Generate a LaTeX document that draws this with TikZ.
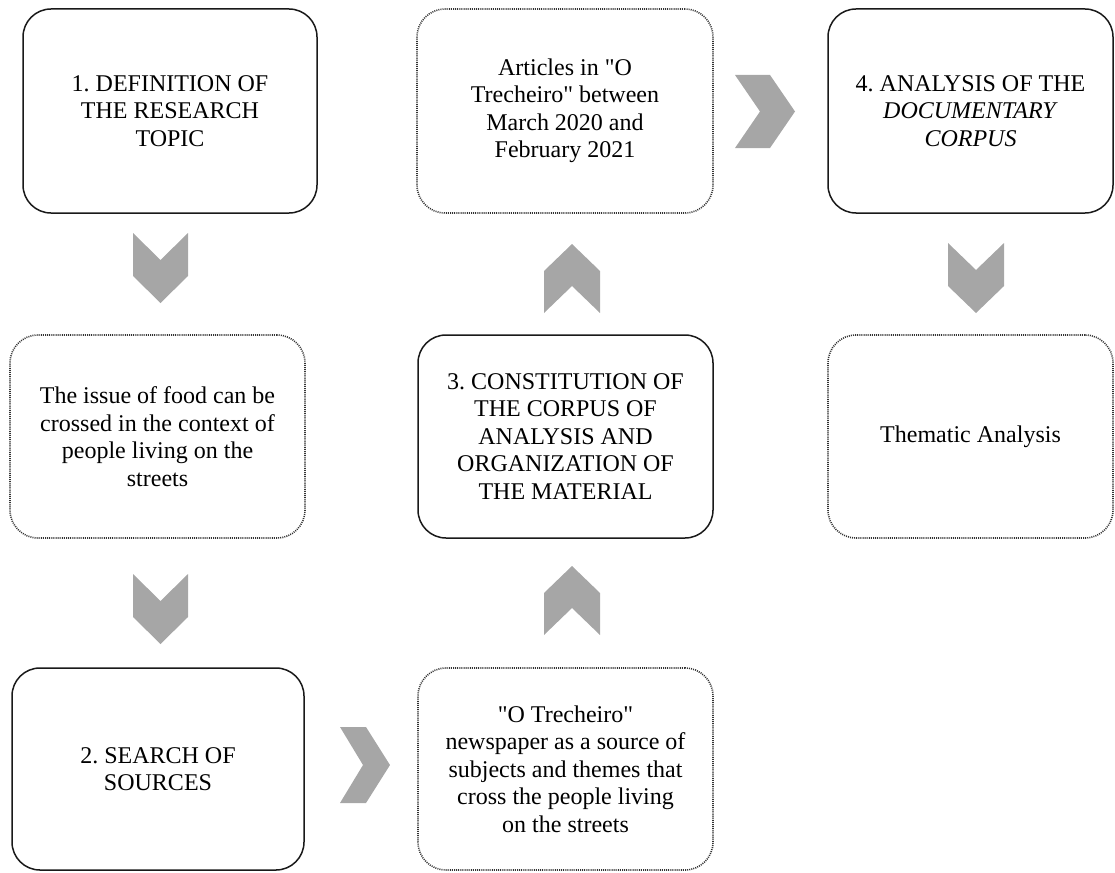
\documentclass[tikz,border=0pt]{standalone}
\usepackage{fontspec}
\setmainfont{Liberation Serif}[Ligatures=TeXOff]
\begin{document}
\frenchspacing
\begin{tikzpicture}[x=1pt,y=-1pt,
  base/.style={rounded corners=28pt, align=center, inner sep=0pt,
    font=\fontsize{24}{27.5}\selectfont\frenchspacing, text=black},
  solidbox/.style={base, draw=black!90, line width=1.5pt},
  dotbox/.style={base, draw=black!80, line width=1.6pt, dash pattern=on 1pt off 1.1pt},
  chev/.style={fill=black!35, draw=none}]
\useasboundingbox (0,0) rectangle (1115,872);

% top row
\node[solidbox, minimum width=294pt, minimum height=204pt] (b1) at (170,111)
  {1. DEFINITION OF\\THE RESEARCH\\TOPIC};
\node[dotbox, minimum width=296pt, minimum height=204pt] (art) at (565,111)
  {Articles in "O\\Trecheiro" between\\March 2020 and\\February 2021};
\node[solidbox, minimum width=285pt, minimum height=204pt] (b4) at (970.5,111)
  {4. ANALYSIS OF THE\\\textit{DOCUMENTARY}\\\textit{CORPUS}};

% middle row
\node[dotbox, minimum width=295pt, minimum height=203pt] (issue) at (157.5,436.5)
  {The issue of food can be\\crossed in the context of\\people living on the\\streets};
\node[solidbox, minimum width=295pt, minimum height=203pt] (b3) at (565.5,436.5)
  {3. CONSTITUTION OF\\THE CORPUS OF\\ANALYSIS AND\\ORGANIZATION OF\\THE MATERIAL};
\node[dotbox, minimum width=285pt, minimum height=203pt] (them) at (970.5,436.5)
  {Thematic Analysis};

% bottom row
\node[solidbox, minimum width=292pt, minimum height=202pt] (b2) at (158,769)
  {2. SEARCH OF\\SOURCES};
\node[dotbox, minimum width=295pt, minimum height=202pt] (news) at (565.5,769)
  {"O Trecheiro"\\newspaper as a source of\\subjects and themes that\\cross the people living\\on the streets};

% chevrons (down)
\fill[chev] (133,233) -- (160.5,260) -- (188,233) -- (188,276) -- (160.5,303) -- (133,276) -- cycle;
\fill[chev] (133,574) -- (160.5,601) -- (188,574) -- (188,617) -- (160.5,644) -- (133,617) -- cycle;
\fill[chev] (948,243) -- (976,270) -- (1004,243) -- (1004,286) -- (976,313) -- (948,286) -- cycle;
% chevrons (up)
\fill[chev] (544,271) -- (572,244) -- (600,271) -- (600,313) -- (572,286) -- (544,313) -- cycle;
\fill[chev] (544,593) -- (572,566) -- (600,593) -- (600,635) -- (572,608) -- (544,635) -- cycle;
% chevrons (right)
\fill[chev] (735,75) -- (770,75) -- (795,111.5) -- (770,148) -- (735,148) -- (760,111.5) -- cycle;
\fill[chev] (340,727) -- (366,727) -- (390,765) -- (366,803) -- (340,803) -- (363,765) -- cycle;
\end{tikzpicture}
\end{document}
